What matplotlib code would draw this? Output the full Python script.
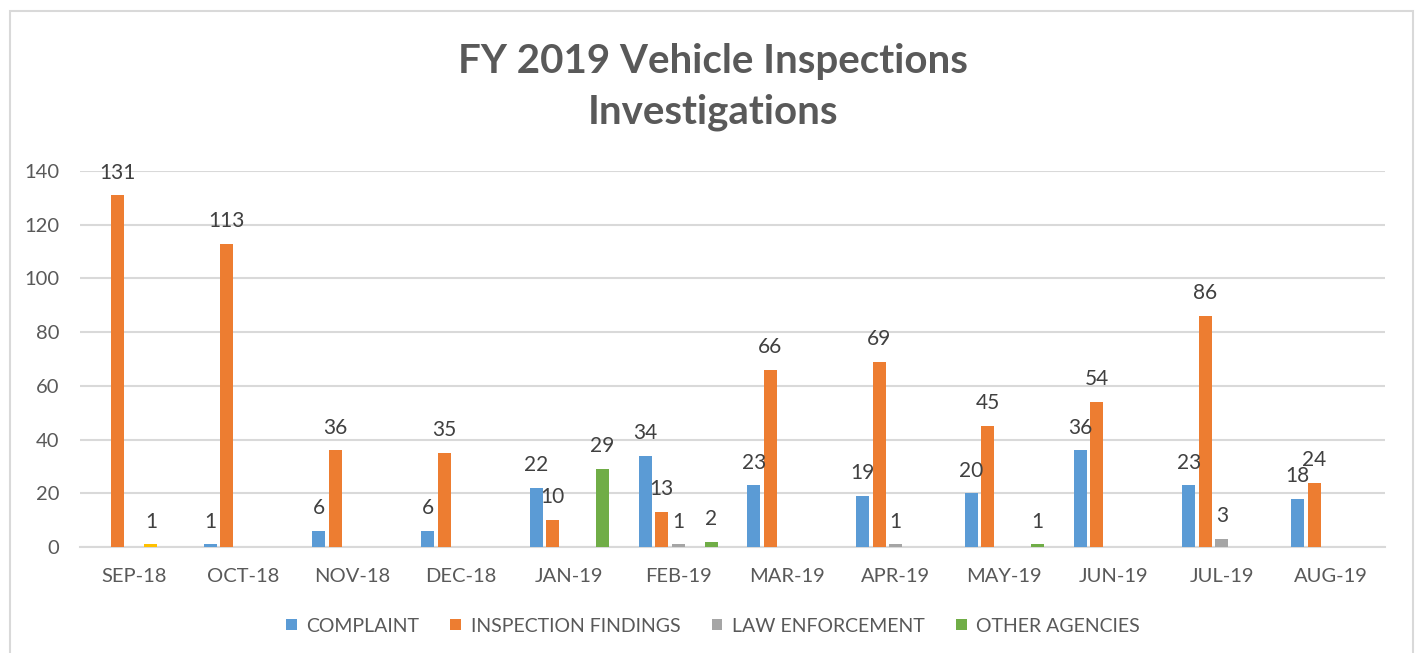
import matplotlib
matplotlib.use("Agg")
import matplotlib.pyplot as plt
import numpy as np
from matplotlib.patches import Rectangle

plt.rcParams['font.family'] = ['Lato', 'DejaVu Sans']

months = ["SEP-18", "OCT-18", "NOV-18", "DEC-18", "JAN-19", "FEB-19",
          "MAR-19", "APR-19", "MAY-19", "JUN-19", "JUL-19", "AUG-19"]
complaint = [0, 1, 6, 6, 22, 34, 23, 19, 20, 36, 23, 18]
inspection_findings = [131, 113, 36, 35, 10, 13, 66, 69, 45, 54, 86, 24]
law_enforcement = [0, 0, 0, 0, 0, 1, 0, 1, 0, 0, 3, 0]
unlabeled_series = [1, 0, 0, 0, 0, 0, 0, 0, 0, 0, 0, 0]
other_agencies = [0, 0, 0, 0, 29, 2, 0, 0, 1, 0, 0, 0]

series = [
    ("COMPLAINT", complaint, "#5B9BD5"),
    ("INSPECTION FINDINGS", inspection_findings, "#ED7D31"),
    ("LAW ENFORCEMENT", law_enforcement, "#A5A5A5"),
    ("_hidden", unlabeled_series, "#FFC000"),
    ("OTHER AGENCIES", other_agencies, "#70AD47"),
]

W, H = 1418, 653
fig = plt.figure(figsize=(W / 100, H / 100), dpi=100)
fig.patch.set_facecolor("white")

# chart border
fig.patches.append(Rectangle((10 / W, -0.05), (1413 - 10) / W, (1 - 11 / H) + 0.05,
                             transform=fig.transFigure, fill=False,
                             edgecolor="#D9D9D9", linewidth=1.5))

ax = fig.add_axes([80 / W, 1 - 547 / H, (1385 - 80) / W, (547 - 171) / H])
x = np.arange(len(months))
step = 0.152
width = 0.12
n = len(series)
text_col = "#595959"
for i, (name, vals, col) in enumerate(series):
    off = (i - (n - 1) / 2) * step
    ax.bar(x + off, vals, width, color=col, label=name, zorder=3)
    for xi, v in zip(x + off, vals):
        if v:
            ax.annotate(str(v), (xi, v), xytext=(0, 12), textcoords="offset points",
                        ha="center", va="baseline", fontsize=15, color="#404040", zorder=4)

ax.set_xlim(-0.5, len(months) - 0.5)
ax.set_ylim(0, 140)
ax.set_yticks(np.arange(0, 141, 20))
ax.set_xticks(x)
ax.set_xticklabels(months)
ax.yaxis.grid(True, color="#D9D9D9", linewidth=1.5, zorder=0)
ax.set_axisbelow(True)
for s in ["top", "right", "left"]:
    ax.spines[s].set_visible(False)
ax.spines["bottom"].set_color("#D9D9D9")
ax.spines["bottom"].set_linewidth(1.5)
ax.tick_params(axis="both", length=0, labelsize=14.5, labelcolor=text_col)
ax.tick_params(axis="y", pad=15)
ax.tick_params(axis="x", pad=15)

fig.text(713 / W, 1 - 62 / H, "FY 2019 Vehicle Inspections", ha="center", va="center",
         fontsize=29, fontweight="bold", color=text_col)
fig.text(713 / W, 1 - 112 / H, "Investigations", ha="center", va="center",
         fontsize=29, fontweight="bold", color=text_col)

handles, labels = ax.get_legend_handles_labels()
hl = [(h, l) for h, l in zip(handles, labels) if not l.startswith("_")]
leg = fig.legend([h for h, _ in hl], [l for _, l in hl], loc="center",
                 bbox_to_anchor=(713 / W, 1 - 626 / H), ncol=4, frameon=False,
                 fontsize=14, handlelength=0.55, handleheight=0.55, handletextpad=0.5,
                 columnspacing=1.6)
for t in leg.get_texts():
    t.set_color(text_col)

fig.savefig("out.png", dpi=100)
